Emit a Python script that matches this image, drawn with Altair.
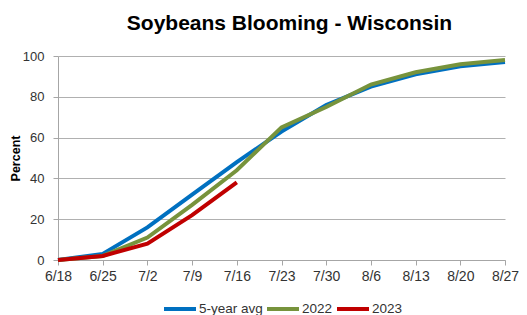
import altair as alt
import pandas as pd

weeks = ["6/18", "6/25", "7/2", "7/9", "7/16", "7/23", "7/30", "8/6", "8/13", "8/20", "8/27"]
avg5 = [0, 3, 16, 32, 48, 63, 76, 85, 91, 95, 97]
y2022 = [0, 2, 11, 27, 44, 65, 75, 86, 92, 96, 98]
y2023 = [0, 2, 8, 22, 38]

series_names = ["5-year avg", "2022", "2023"]
colors = ["#0070C0", "#77933C", "#C00000"]

rows = []
for name, vals in zip(series_names, [avg5, y2022, y2023]):
    for i, v in enumerate(vals):
        rows.append({"week": weeks[i], "value": v, "series": name, "order": series_names.index(name)})
df = pd.DataFrame(rows)

chart = alt.Chart(df).mark_line(strokeWidth=4, strokeJoin="miter").encode(
    x=alt.X("week:O", sort=weeks, scale=alt.Scale(type="point", padding=0),
            axis=alt.Axis(title=None, labelAngle=0, labelFontSize=14, labelColor="#333333",
                          domainColor="#A6A6A6", tickColor="#A6A6A6", tickSize=5,
                          labelPadding=4, grid=False, labelFont="Liberation Sans")),
    y=alt.Y("value:Q", scale=alt.Scale(domain=[0, 100]),
            axis=alt.Axis(title="Percent", values=[0, 20, 40, 60, 80, 100], labelFontSize=13,
                          labelColor="#333333", domainColor="#A6A6A6", tickColor="#A6A6A6",
                          tickSize=5, gridColor="#B0B0B0", gridWidth=1, titleFontSize=12.5,
                          titleFontWeight="bold", titleColor="#000000", titlePadding=0,
                          labelPadding=9,
                          labelFont="Liberation Sans", titleFont="Liberation Sans")),
    color=alt.Color("series:N", sort=series_names,
                    scale=alt.Scale(domain=series_names, range=colors),
                    legend=alt.Legend(title=None, orient="none", legendX=104, legendY=235,
                                      direction="horizontal",
                                      symbolType="stroke", symbolSize=1024, symbolStrokeWidth=4,
                                      labelFontSize=13.5, labelColor="#333333", labelOffset=1,
                                      columnPadding=-4, labelFont="Liberation Sans")),
    detail="series:N",
    order="order:Q",
).properties(
    width=447, height=204,
    title=alt.TitleParams("Soybeans Blooming - Wisconsin", fontSize=21, fontWeight="bold",
                          font="Liberation Sans", color="#000000", anchor="middle", offset=16, dx=8),
    autosize=alt.AutoSizeParams(type="none"),
    padding={"left": 50, "top": 48, "right": 14, "bottom": 55},
).configure_view(stroke=None)

chart.save("out.html", embed_options={"renderer": "svg", "actions": False})
